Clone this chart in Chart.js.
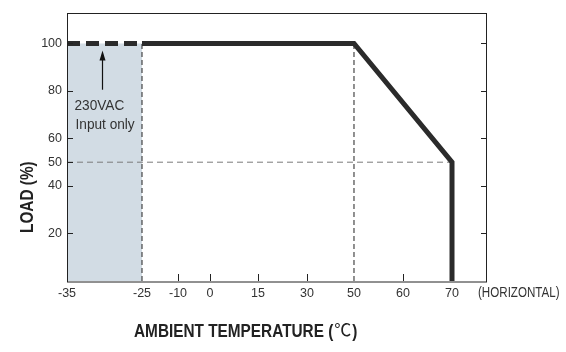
<!DOCTYPE html>
<html><head><meta charset="utf-8">
<script src="https://cdn.jsdelivr.net/npm/chart.js@4/dist/chart.umd.min.js"></script>
<style>html,body{margin:0;padding:0;background:#fff}#wrap{width:566px;height:352px}</style>
</head><body><div id="wrap"><canvas id="c" width="566" height="352"></canvas></div>
<script>
// ---- data ----
const xTickTemps = [-35, -25, -10, 0, 15, 30, 50, 60, 70];
const yTickLoads = [20, 40, 50, 60, 80, 100];
const rightTickLoads = [20, 40, 60, 80, 100];
const innerXTickTemps = [-10, 0, 15, 30, 60];
const deratingTemps = [-25, 50, 70, 70];
const deratingLoads = [100, 100, 50, 0];
const inputOnlyTemps = [-35, -25];
const inputOnlyLoads = [100, 100];
const guideTemps = [-25, 50];
const guideLoads = [0, 100];
const halfLoadTemps = [-35, 70];
const halfLoadValues = [50, 50];
const arrowTemp = -30.3;
const arrowLoads = [80.5, 97];
const noteLines = ['230VAC', 'Input only'];
const noteTemp = -34;
const noteLoads = [71.8, 64.1];
// non-uniform temperature axis layout (stop value -> fraction of axis length)
const axisStopTemps = [-35, -25, -10, 0, 15, 30, 50, 60, 70, 77];
const axisStopFracs = [0, 0.1786, 0.2643, 0.3405, 0.4548, 0.5714, 0.6833, 0.8, 0.9167, 1];

function interp(v, a, b) {
  const n = a.length - 1;
  let i = 1;
  while (i < n && v > a[i]) i++;
  return b[i - 1] + (v - a[i - 1]) * (b[i] - b[i - 1]) / (a[i] - a[i - 1]);
}
class SegmentedScale extends Chart.LinearScale {
  getPixelForValue(v) {
    if (v === null || v === undefined || isNaN(v)) return NaN;
    return this.getPixelForDecimal(interp(v, axisStopTemps, axisStopFracs));
  }
  getValueForPixel(p) {
    return interp(this.getDecimalForPixel(p), axisStopFracs, axisStopTemps);
  }
}
SegmentedScale.id = 'segmented';
SegmentedScale.defaults = Chart.LinearScale.defaults;
Chart.register(SegmentedScale);

const pts = (xs, ys) => xs.map((x, i) => ({x: x, y: ys[i]}));
const INK = '#2b2b2b';
const FONT = '"Liberation Sans", Arial, sans-serif';

// draw text horizontally condensed (the source uses a narrow typeface)
function condensed(ctx, text, x, y, font, squeeze) {
  ctx.save();
  ctx.translate(x, y); ctx.scale(squeeze, 1);
  ctx.font = font;
  ctx.fillText(text, 0, 0);
  const w = ctx.measureText(text).width * squeeze;
  ctx.restore();
  return w;
}

const decor = {
  id: 'decor',
  afterDatasetsDraw(chart) {
    const ctx = chart.ctx, a = chart.chartArea;
    const xs = chart.scales.x, ys = chart.scales.y;
    ctx.save();
    // frame
    ctx.strokeStyle = '#222'; ctx.lineWidth = 1;
    ctx.strokeRect(Math.round(a.left) + 0.5, Math.round(a.top) + 0.5, Math.round(a.right - a.left) - 1, Math.round(a.bottom - a.top) - 0.5);
    // inward tick marks
    ctx.beginPath();
    yTickLoads.forEach(v => { const y = Math.round(ys.getPixelForValue(v)) + 0.5; ctx.moveTo(a.left, y); ctx.lineTo(a.left + 6, y); });
    rightTickLoads.forEach(v => { const y = Math.round(ys.getPixelForValue(v)) + 0.5; ctx.moveTo(a.right, y); ctx.lineTo(a.right - 6, y); });
    innerXTickTemps.forEach(v => { const x = Math.round(xs.getPixelForValue(v)) + 0.5; ctx.moveTo(x, a.bottom); ctx.lineTo(x, a.bottom - 7); });
    ctx.stroke();
    // arrow
    const ax = Math.round(xs.getPixelForValue(arrowTemp)) + 0.5;
    const y0 = ys.getPixelForValue(arrowLoads[0]), y1 = ys.getPixelForValue(arrowLoads[1]);
    ctx.strokeStyle = '#111'; ctx.lineWidth = 1.2;
    ctx.beginPath(); ctx.moveTo(ax, y0); ctx.lineTo(ax, y1 + 8); ctx.stroke();
    ctx.fillStyle = '#111';
    ctx.beginPath(); ctx.moveTo(ax, y1); ctx.lineTo(ax - 3, y1 + 10); ctx.lineTo(ax + 3, y1 + 10); ctx.closePath(); ctx.fill();
    // note
    ctx.fillStyle = '#333'; ctx.textAlign = 'left'; ctx.textBaseline = 'alphabetic';
    noteLines.forEach((t, i) => condensed(ctx, t, xs.getPixelForValue(noteTemp) + (i ? 1 : 0), ys.getPixelForValue(noteLoads[i]), '15px ' + FONT, 0.91));
    // (HORIZONTAL)
    condensed(ctx, '(HORIZONTAL)', 478, 297, '14.5px ' + FONT, 0.8);
    // y title
    ctx.save();
    ctx.translate(33, 233); ctx.rotate(-Math.PI / 2);
    ctx.fillStyle = '#222';
    condensed(ctx, 'LOAD (%)', 0, 0, 'bold 18.5px ' + FONT, 0.83);
    ctx.restore();
    // x title
    ctx.fillStyle = '#222';
    let x = 134; const base = 337;
    x += condensed(ctx, 'AMBIENT TEMPERATURE (', x, base, 'bold 18.5px ' + FONT, 0.83) + 1;
    ctx.font = '17px "Noto Sans CJK SC", "DejaVu Sans", sans-serif';
    ctx.fillText('\u2103', x, base - 1);
    x += ctx.measureText('\u2103').width + 1;
    condensed(ctx, ')', x, base, 'bold 18.5px ' + FONT, 0.83);
    ctx.restore();
  }
};

new Chart(document.getElementById('c'), {
  type: 'scatter',
  data: {
    datasets: [
      { data: pts(deratingTemps, deratingLoads), showLine: true, borderColor: INK, borderWidth: 5,
        pointRadius: 0, borderCapStyle: 'butt', borderJoinStyle: 'miter', order: 1 },
      { data: pts(inputOnlyTemps, inputOnlyLoads), showLine: true, borderColor: INK, borderWidth: 5,
        borderDash: [13, 6], pointRadius: 0, borderCapStyle: 'butt', order: 1 },
      { data: pts([guideTemps[0], guideTemps[0]], guideLoads), showLine: true, borderColor: '#222', borderWidth: 1,
        borderDash: [5, 3], pointRadius: 0, order: 3 },
      { data: pts([guideTemps[1], guideTemps[1]], guideLoads), showLine: true, borderColor: '#222', borderWidth: 1,
        borderDash: [5, 3], pointRadius: 0, order: 3 },
      { data: pts(halfLoadTemps, halfLoadValues), showLine: true, borderColor: '#7a7a7a', borderWidth: 1,
        borderDash: [6, 4], pointRadius: 0, order: 4 },
      { data: pts(inputOnlyTemps, inputOnlyLoads), showLine: true, borderWidth: 0, borderColor: 'rgba(0,0,0,0)',
        backgroundColor: '#d2dce4', fill: 'origin', pointRadius: 0, order: 10 }
    ]
  },
  options: {
    responsive: false, animation: false, events: [],
    layout: { padding: { left: 0, top: 12, right: 79, bottom: 0 } },
    plugins: { legend: { display: false }, tooltip: { enabled: false } },
    scales: {
      x: {
        type: 'segmented', min: -35, max: 77,
        afterBuildTicks: s => { s.ticks = xTickTemps.map(v => ({value: v})); },
        afterFit: s => { s.height = 71; },
        grid: { display: false, drawTicks: false, tickLength: 0 }, border: { display: false },
        ticks: { autoSkip: false, maxRotation: 0, padding: 5, color: '#333', font: { family: FONT, size: 12.5 } }
      },
      y: {
        type: 'linear', min: 0, max: 113,
        afterBuildTicks: s => { s.ticks = yTickLoads.map(v => ({value: v})); },
        afterFit: s => { s.width = 67; },
        grid: { display: false, drawTicks: false, tickLength: 0 }, border: { display: false },
        ticks: { padding: 5, color: '#333', font: { family: FONT, size: 12.5 } }
      }
    }
  },
  plugins: [decor]
});
</script></body></html>
